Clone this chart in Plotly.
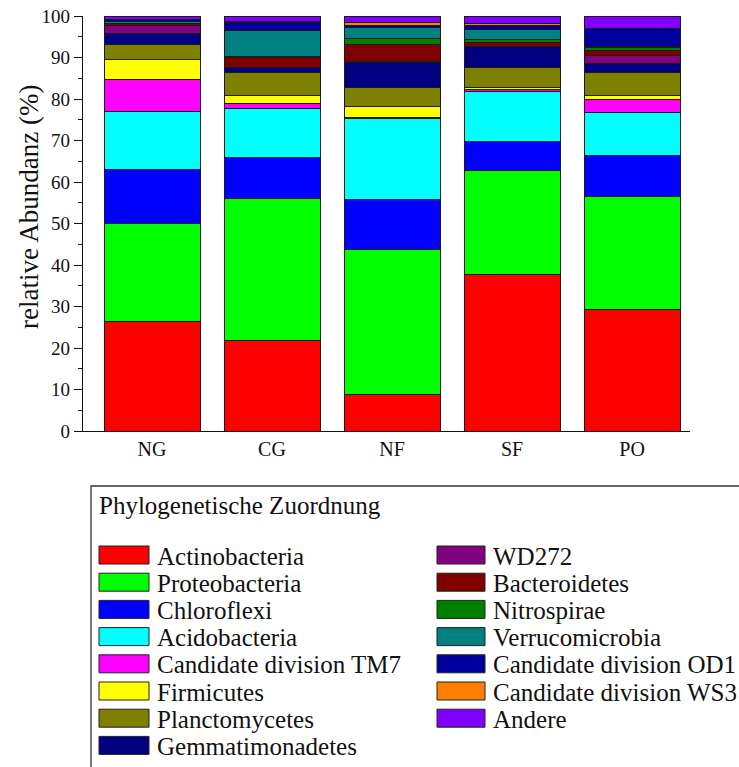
import plotly.graph_objects as go

# Sampling sites
sites = ["NG", "CG", "NF", "SF", "PO"]

# Phyla in stacking order (bottom to top)
phyla = [
    "Actinobacteria", "Proteobacteria", "Chloroflexi", "Acidobacteria",
    "Candidate division TM7", "Firmicutes", "Planctomycetes", "Gemmatimonadetes",
    "WD272", "Bacteroidetes", "Nitrospirae", "Verrucomicrobia",
    "Candidate division OD1", "Candidate division WS3", "Andere",
]

colors = [
    "#FF0000", "#00FF00", "#0000FF", "#00FFFF",
    "#FF00FF", "#FFFF00", "#808000", "#000080",
    "#800080", "#800000", "#008000", "#008080",
    "#00009C", "#FF8000", "#8000FF",
]

# Relative abundance (%) per phylum, one value per site (NG, CG, NF, SF, PO)
actinobacteria = [26.3, 21.9, 8.9, 37.6, 29.3]
proteobacteria = [23.6, 34.2, 34.9, 25.1, 27.2]
chloroflexi = [13.2, 9.8, 12.1, 7.0, 10.0]
acidobacteria = [14.0, 11.7, 19.3, 12.2, 10.3]
tm7 = [7.6, 1.3, 0.3, 0.4, 3.2]
firmicutes = [4.9, 1.9, 2.7, 0.5, 0.9]
planctomycetes = [3.6, 5.6, 4.6, 4.8, 5.6]
gemmatimonadetes = [2.5, 1.1, 6.0, 5.0, 2.1]
wd272 = [2.0, 0.2, 0.2, 0.1, 2.0]
bacteroidetes = [0.4, 2.3, 4.2, 1.0, 1.0]
nitrospirae = [0.2, 0.3, 1.4, 0.7, 0.8]
verrucomicrobia = [0.3, 6.3, 2.6, 2.3, 0.3]
od1 = [0.5, 1.8, 0.5, 1.0, 4.2]
ws3 = [0.1, 0.3, 0.7, 0.5, 0.1]
andere = [0.8, 1.3, 1.6, 1.8, 2.8]

series = [
    actinobacteria, proteobacteria, chloroflexi, acidobacteria, tm7,
    firmicutes, planctomycetes, gemmatimonadetes, wd272, bacteroidetes,
    nitrospirae, verrucomicrobia, od1, ws3, andere,
]

FONT = "Liberation Serif"
W, H = 739, 767
ML, MR, MT, MB = 83, 49, 16, 336
PW, PH = W - ML - MR, H - MT - MB


def px(x):
    return (x - ML) / PW


def py(y):
    return (H - MB - y) / PH


fig = go.Figure()
for name, vals, col in zip(phyla, series, colors):
    fig.add_trace(go.Bar(
        x=sites, y=vals, name=name, showlegend=False,
        marker=dict(color=col, line=dict(color="#1a1a1a", width=1)),
    ))

# Legend box drawn by hand: two columns with a heading
shapes = [dict(type="rect", xref="paper", yref="paper",
               x0=px(91), x1=px(748), y0=py(486), y1=py(780),
               line=dict(color="#333333", width=1.3), fillcolor="rgba(0,0,0,0)")]
annotations = [dict(xref="paper", yref="paper", x=px(97), y=py(505),
                    xanchor="left", yanchor="middle", showarrow=False,
                    text="Phylogenetische Zuordnung",
                    font=dict(family=FONT, size=25, color="#111111"))]

row0, step = 555, 27.2
for i, (name, col) in enumerate(zip(phyla, colors)):
    if i < 8:
        sx0, sx1, tx, r = 99, 149, 155, i
    else:
        sx0, sx1, tx, r = 437, 485, 491, i - 8
    cy = row0 + r * step
    shapes.append(dict(type="rect", xref="paper", yref="paper",
                       x0=px(sx0), x1=px(sx1), y0=py(cy - 9), y1=py(cy + 9),
                       fillcolor=col, line=dict(color="#222222", width=1)))
    annotations.append(dict(xref="paper", yref="paper", x=px(tx), y=py(cy + 1),
                            xanchor="left", yanchor="middle", showarrow=False,
                            text=name, font=dict(family=FONT, size=25, color="#111111")))

# Y-axis title
annotations.append(dict(xref="paper", yref="paper", x=px(29), y=py(207),
                        xanchor="center", yanchor="middle", showarrow=False,
                        textangle=-90, text="relative Abundanz (%)",
                        font=dict(family=FONT, size=27, color="#111111")))

fig.update_layout(
    width=W, height=H,
    margin=dict(l=ML, r=MR, t=MT, b=MB, pad=0),
    barmode="stack", bargap=0.2,
    plot_bgcolor="white", paper_bgcolor="white",
    font=dict(family=FONT, color="#111111"),
    shapes=shapes, annotations=annotations,
    xaxis=dict(
        type="category", range=[-0.575, 4.483], automargin=False,
        showline=True, linecolor="#111111", linewidth=1.2,
        ticks="", showgrid=False, zeroline=False,
        tickfont=dict(family=FONT, size=20, color="#111111"),
    ),
    yaxis=dict(
        range=[0, 100], tickmode="array", tickvals=list(range(0, 101, 10)),
        automargin=False,
        showline=True, linecolor="#111111", linewidth=1.2,
        ticks="outside", ticklen=8, tickcolor="#111111", tickwidth=1,
        minor=dict(dtick=5, ticks="outside", ticklen=4, tickcolor="#111111", showgrid=False),
        showgrid=False, zeroline=False,
        tickfont=dict(family=FONT, size=19, color="#111111"),
    ),
)

fig.write_html("out.html")
